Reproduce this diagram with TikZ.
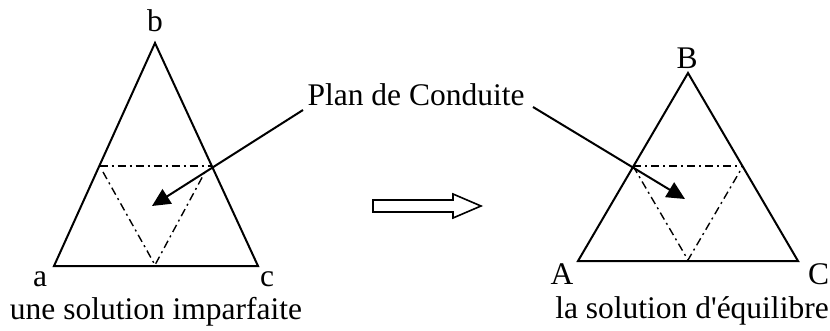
\documentclass[tikz,border=0pt]{standalone}
\usepackage{fontspec}
\defaultfontfeatures[\rmfamily]{}
\setmainfont{Liberation Serif}
\usetikzlibrary{arrows.meta}
\begin{document}
\begin{tikzpicture}[x=1pt,y=-1pt,
  lbl/.style={font=\fontsize{31.5}{36}\selectfont, inner sep=0pt},
  tri/.style={line width=2pt, line join=miter},
  dd/.style={line width=1.4pt, dash pattern=on 8pt off 4pt on 2pt off 4pt},
  ptr/.style={line width=2pt, -{Triangle[length=18pt,width=17pt]}}]
\useasboundingbox (0,0) rectangle (830,331);
% left triangle
\coordinate (a) at (54,266);
\coordinate (b) at (155,43);
\coordinate (c) at (258,266);
\draw[tri] (a) -- (b) -- (c) -- cycle;
\coordinate (l1) at (99.5,166);
\coordinate (l2) at (212,166);
\coordinate (l3) at (155,265);
\draw[dd] (l1) -- (l2);
\draw[dd] (103,172) -- (l3) -- (205,172);
\node[lbl] (la) at (40,279) {a};
\node[lbl] (lb) at (155,21) {b};
\node[lbl] (lc) at (267,279) {c};
\node[lbl] (cap1) at (156,312) {une solution imparfaite};
% right triangle
\coordinate (A) at (578,261);
\coordinate (B) at (688,73);
\coordinate (C) at (798,261);
\draw[tri] (A) -- (B) -- (C) -- cycle;
\coordinate (r1) at (633,166);
\coordinate (r2) at (743,166);
\coordinate (r3) at (688,260);
\draw[dd] (r1) -- (r2);
\draw[dd] (r1) -- (r3) -- (r2);
\node[lbl] (lA) at (562,274) {A};
\node[lbl] (lB) at (687,58) {B};
\node[lbl] (lC) at (818.5,274) {C};
\node[lbl] (cap2) at (692,311) {la solution d'équilibre};
% label and pointers
\node[lbl] (plan) at (416,95) {Plan de Conduite};
\coordinate (p1) at (303,110);
\coordinate (p2) at (533,107);
\coordinate (t1) at (152,206);
\coordinate (t2) at (685,199);
\draw[ptr] (p1) -- (t1);
\draw[ptr] (p2) -- (t2);
% hollow arrow
\draw[line width=1.6pt, line join=miter] (373,200) -- (453,200) -- (453,194) -- (481,206) -- (453,218) -- (453,212) -- (373,212) -- cycle;
\end{tikzpicture}
\end{document}
